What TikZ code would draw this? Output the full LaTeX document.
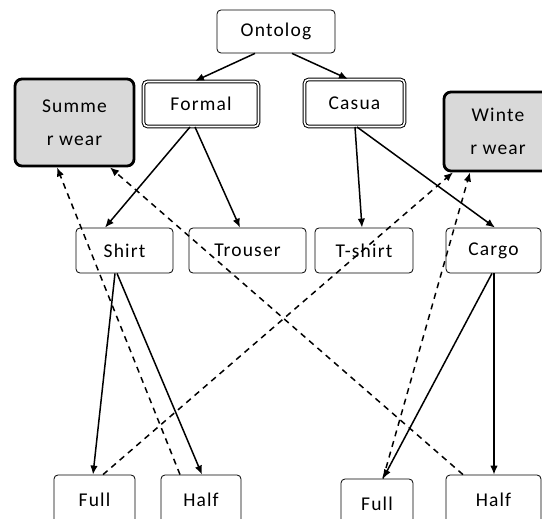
\documentclass[tikz,border=0pt]{standalone}
\usepackage{fontspec}
\setmainfont{Carlito}
\newfontfamily\labelfont[LetterSpace=6]{Carlito}
\usetikzlibrary{arrows.meta}
\tikzset{
  box/.style={draw, rounded corners=4pt, line width=0.8pt, align=center,
    inner sep=0pt, font=\labelfont\fontsize{19.5}{33}\selectfont},
  season/.style={box, fill=black!15, line width=2.8pt, rounded corners=7pt},
  category/.style={box, double, double distance=1.6pt, line width=1pt},
  link/.style={line width=1.5pt, -{Latex[length=9pt,width=7.5pt]}},
  seasonlink/.style={link, dash pattern=on 6pt off 5pt}
}
\begin{document}
\begin{tikzpicture}[x=1pt,y=-1pt]
\useasboundingbox (0,0) rectangle (542,519);
% top level
\node[box, minimum width=118pt, minimum height=43pt] (onto) at (276,31.5) {Ontolog};
% categories
\node[category, minimum width=115pt, minimum height=45pt] (formal) at (201,104) {Formal};
\node[category, minimum width=100pt, minimum height=47pt] (casual) at (354.5,103) {Casua};
% seasons
\node[season, minimum width=119pt, minimum height=87pt] (summer) at (74.5,122.5) {Summe\\r wear};
\node[season, minimum width=108pt, minimum height=79pt] (winter) at (498,131.5) {Winte\\r wear};
% garments
\node[box, minimum width=97pt, minimum height=45pt] (shirt) at (124.5,250.5) {Shirt};
\node[box, minimum width=117pt, minimum height=45pt] (trouser) at (247.5,250.5) {Trouser};
\node[box, minimum width=98pt, minimum height=45pt] (tshirt) at (364,250.5) {T-shirt};
\node[box, minimum width=95pt, minimum height=45pt] (cargo) at (493.5,250.5) {Cargo};
% sleeve lengths
\node[box, minimum width=81pt, minimum height=50pt] (fullA) at (94.5,500) {Full};
\node[box, minimum width=80pt, minimum height=50pt] (halfA) at (201,500) {Half};
\node[box, minimum width=72pt, minimum height=50pt] (fullB) at (377,504) {Full};
\node[box, minimum width=95pt, minimum height=50pt] (halfB) at (493.5,500) {Half};
% hierarchy
\draw[link] ([xshift=-21pt]onto.south) -- ([xshift=-6pt]formal.north);
\draw[link] ([xshift=16pt]onto.south) -- ([xshift=-6.5pt]casual.north);
\draw[link] ([xshift=-11pt]formal.south) -- ([xshift=-19.5pt]shirt.north);
\draw[link] ([xshift=-6pt]formal.south) -- ([xshift=-7.5pt]trouser.north);
\draw[link] ([xshift=0.5pt]casual.south) -- ([xshift=-2pt]tshirt.north);
\draw[link] ([xshift=2.5pt]casual.south) -- ([xshift=1.5pt]cargo.north);
\draw[link] ([xshift=-9.5pt]shirt.south) -- ([xshift=-1.5pt]fullA.north);
\draw[link] ([xshift=-7.5pt]shirt.south) -- ([xshift=1pt]halfA.north);
\draw[link] ([xshift=-1.5pt]cargo.south) -- ([xshift=6pt]fullB.north);
\draw[link] ([xshift=0.5pt]cargo.south) -- ([xshift=0.5pt]halfB.north);
% season membership
\draw[seasonlink] ([xshift=-21pt]halfA.north) -- ([xshift=-17.5pt]summer.south);
\draw[seasonlink] ([xshift=-30.5pt]halfB.north) -- ([xshift=35.5pt]summer.south);
\draw[seasonlink] ([xshift=8.5pt]fullA.north) -- ([xshift=-45pt]winter.south);
\draw[seasonlink] ([xshift=6pt]fullB.north) -- ([xshift=-28pt]winter.south);
\end{tikzpicture}
\end{document}
